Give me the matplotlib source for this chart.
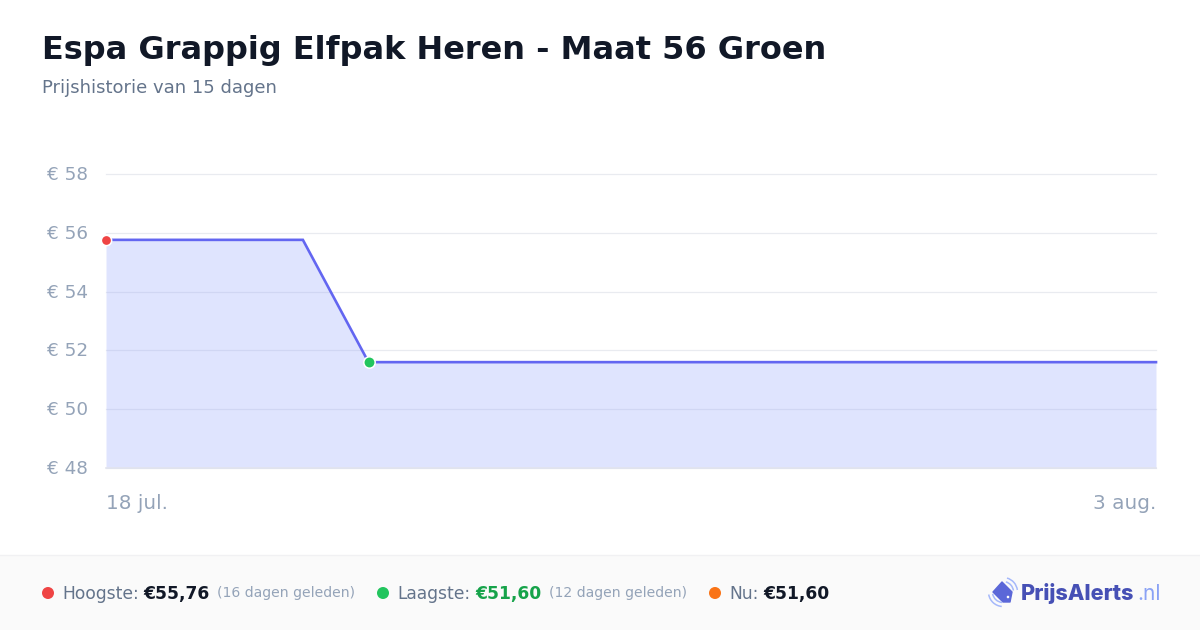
# -*- coding: utf-8 -*-
import matplotlib
matplotlib.use('Agg')
import matplotlib.pyplot as plt
from matplotlib.patches import Arc, Circle, Polygon, Rectangle
from matplotlib.transforms import ScaledTranslation

title = 'Espa Grappig Elfpak Heren - Maat 56 Groen'
subtitle = 'Prijshistorie van 15 dagen'

# days since 18 jul.
days = [0, 3, 4, 16]
prices = [55.76, 55.76, 51.60, 51.60]
high_day, high_price = 0, 55.76
low_day, low_price = 4, 51.60

y_ticks = [48, 50, 52, 54, 56, 58]
y_labels = ['€ 48', '€ 50', '€ 52', '€ 54', '€ 56', '€ 58']
x_labels = ['18 jul.', '3 aug.']

plt.rcParams['font.family'] = ['DejaVu Sans']
W, H = 1200, 630
fig = plt.figure(figsize=(W / 100, H / 100), dpi=100, facecolor='white')

# overlay in pixels for the header and footer
bg = fig.add_axes([0, 0, 1, 1], zorder=0)
bg.set_xlim(0, W)
bg.set_ylim(H, 0)
bg.axis('off')
bg.add_patch(Rectangle((0, 555), W, 75, fc='#fafafa', ec='none'))
bg.plot([0, W], [554.5, 554.5], color='#f1f1f3', lw=1)

bg.text(42, 47, title, fontsize=23, fontweight='bold', color='#111827', va='center_baseline')
bg.text(42, 86, subtitle, fontsize=12.95, color='#64748b', va='center_baseline')

# chart
ax = fig.add_axes([106 / W, 1 - 468 / H, 1050 / W, (468 - 174) / H], zorder=1)
ax.patch.set_alpha(0)
ax.set_xlim(days[0], days[-1])
ax.set_ylim(y_ticks[0], y_ticks[-1])
for s in ax.spines.values():
    s.set_visible(False)
ax.set_yticks(y_ticks)
ax.set_yticklabels(y_labels, fontsize=13.2, color='#94a3b8')
ax.tick_params(axis='y', length=0, pad=13)
up = ScaledTranslation(0, 1 / 100, fig.dpi_scale_trans)
for lab in ax.get_yticklabels():
    lab.set_va('center_baseline')
    lab.set_transform(lab.get_transform() + up)
ax.set_xticks([days[0], days[-1]])
ax.set_xticklabels(x_labels, fontsize=14.4, color='#94a3b8')
ax.tick_params(axis='x', length=0, pad=18.5)
ax.get_xticklabels()[0].set_ha('left')
ax.get_xticklabels()[1].set_ha('right')
ax.grid(axis='y', color='#e9ebf0', lw=0.9, zorder=1, clip_on=False)
ax.set_axisbelow(True)

ax.fill_between(days, prices, y_ticks[0], color='#98a8fc', alpha=0.3, lw=0, zorder=2)
ax.axhline(y_ticks[0], color='#e2e4ee', lw=1.2, zorder=2.5, clip_on=False)
ax.plot(days, prices, color='#6366f1', lw=1.9, solid_joinstyle='miter', zorder=3, clip_on=False)
ax.plot(high_day, high_price, 'o', ms=7.4, mfc='#ef4444', mec='white', mew=1.1, zorder=4, clip_on=False)
ax.plot(low_day, low_price, 'o', ms=8.2, mfc='#22c55e', mec='white', mew=1.1, zorder=4, clip_on=False)

# footer stats
fs = 12.3
tc = 592
bg.add_patch(Circle((48, 593), 6, fc='#ef4444', ec='none'))
bg.text(62, tc, 'Hoogste:', fontsize=fs, color='#64748b', va='center_baseline')
bg.text(143, tc, '€55,76', fontsize=fs, fontweight='bold', color='#111827', va='center_baseline')
bg.text(217, tc, '(16 dagen geleden)', fontsize=10.05, color='#94a3b8', va='center_baseline')

bg.add_patch(Circle((383, 593), 6, fc='#22c55e', ec='none'))
bg.text(397, tc, 'Laagste:', fontsize=fs, color='#64748b', va='center_baseline')
bg.text(475, tc, '€51,60', fontsize=fs, fontweight='bold', color='#16a34a', va='center_baseline')
bg.text(549, tc, '(12 dagen geleden)', fontsize=10.05, color='#94a3b8', va='center_baseline')

bg.add_patch(Circle((715, 593), 6, fc='#f97316', ec='none'))
bg.text(729, tc, 'Nu:', fontsize=fs, color='#64748b', va='center_baseline')
bg.text(763, tc, '€51,60', fontsize=fs, fontweight='bold', color='#111827', va='center_baseline')

# logo
bg.add_patch(Polygon([(1002, 582), (1012, 592), (1010, 602), (1003, 602), (993, 592)],
                     closed=True, fc='#5b67d8', ec='#5b67d8', lw=1, joinstyle='round'))
bg.add_patch(Circle((1008, 597), 1.3, fc='white', ec='none'))
for r in (10.5, 14.5):
    bg.add_patch(Arc((1003, 592), 2 * r, 2 * r, theta1=-74, theta2=-8, color='#a5b8fb', lw=1.1))
    bg.add_patch(Arc((1003, 592), 2 * r, 2 * r, theta1=95, theta2=170, color='#a5b8fb', lw=1.1))
bg.text(1021, 592, 'PrijsAlerts', fontsize=15.6, fontweight='heavy', color='#4650b5',
        family=['Inter', 'DejaVu Sans'], va='center_baseline')
bg.text(1137, 592, '.nl', fontsize=15, color='#8aa2f5', family=['Inter', 'DejaVu Sans'],
        va='center_baseline')

fig.savefig('out.png', dpi=100, facecolor='white')
